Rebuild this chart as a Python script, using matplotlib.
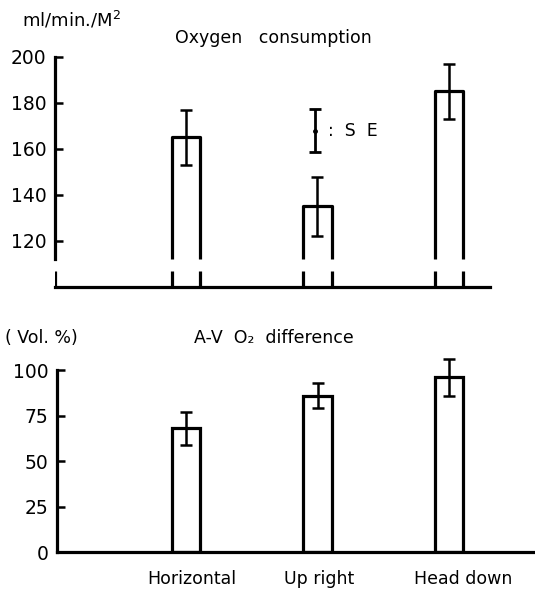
import matplotlib.pyplot as plt
import matplotlib.transforms as mtransforms
import numpy as np

plt.rcParams['font.family'] = ['DejaVu Sans']

positions = ['Horizontal', 'Up right', 'Head down']
o2_cons = [165, 135, 185]
o2_cons_se = [12, 13, 12]
avo2 = [68, 86, 96]
avo2_se = [9, 7, 10]
se_ref = 168
se_ref_half = 9.5

x = np.arange(len(positions))
w = 0.22
lw = 2.3

fig = plt.figure(figsize=(5.35, 5.90), dpi=100)

# ---- top panel: oxygen consumption (broken axis)
ax1 = fig.add_axes([55/535, (590-287)/590, 435/535, 230/590])
ax1.set_xlim(-0.996, 2.312)
ax1.set_ylim(100, 200)
for s in ['top', 'right']:
    ax1.spines[s].set_visible(False)
ax1.spines['left'].set_bounds(112, 200)
ax1.spines['left'].set_linewidth(lw)
ax1.spines['bottom'].set_linewidth(lw)
ax1.set_yticks([120, 140, 160, 180, 200])
ax1.tick_params(axis='y', direction='in', length=6, width=1.8, labelsize=13.5, pad=6)
ax1.set_xticks([])

for xi, v in zip(x, o2_cons):
    ax1.plot([xi - w/2, xi - w/2, xi + w/2, xi + w/2], [112, v, v, 112],
             color='black', lw=lw, solid_capstyle='butt')
    ax1.vlines([xi - w/2, xi + w/2], 100, 107, color='black', lw=lw)
ax1.vlines([-0.996], 100, 107, color='black', lw=lw)
ax1.errorbar(x, o2_cons, yerr=o2_cons_se, fmt='none', ecolor='black',
             elinewidth=1.8, capsize=4, capthick=1.8, clip_on=False)
ax1.errorbar([0.98], [se_ref], yerr=[se_ref_half], fmt='o', ms=2.5, color='black',
             elinewidth=2, capsize=4, capthick=2)
ax1.text(1.08, se_ref, ':  S  E', fontsize=12.5, va='center', ha='left')

fig.text(22/535, 1 - 20/590, 'ml/min./M$^2$', fontsize=13, va='center', ha='left')
fig.text(273/535, 1 - 38/590, 'Oxygen   consumption', fontsize=12.5, va='center', ha='center')

# ---- bottom panel: A-V O2 difference
ax2 = fig.add_axes([57/535, (590-552)/590, 478/535, 200/590])
ax2.set_xlim(-0.981, 2.654)
ax2.set_ylim(0, 110)
for s in ['top', 'right']:
    ax2.spines[s].set_visible(False)
ax2.spines['left'].set_bounds(0, 100)
ax2.spines['left'].set_linewidth(lw)
ax2.spines['bottom'].set_linewidth(lw)
ax2.set_yticks([0, 25, 50, 75, 100])
ax2.tick_params(axis='y', direction='in', length=6, width=1.8, labelsize=13.5, pad=6)
ax2.bar(x, avo2, width=w, fill=False, edgecolor='black', linewidth=lw)
ax2.errorbar(x, avo2, yerr=avo2_se, fmt='none', ecolor='black',
             elinewidth=1.8, capsize=4, capthick=1.8, clip_on=False)
ax2.set_xticks(x)
ax2.set_xticklabels(positions, fontsize=12.5)
ax2.tick_params(axis='x', length=0, pad=13)
# labels sit a little right of the bars in the original
shifts = [6, 2, 14]
for lab, dx in zip(ax2.get_xticklabels(), shifts):
    off = mtransforms.ScaledTranslation(dx/100, 0, fig.dpi_scale_trans)
    lab.set_transform(lab.get_transform() + off)

fig.text(5/535, 1 - 338/590, '( Vol. %)', fontsize=12.5, va='center', ha='left')
fig.text(274/535, 1 - 338/590, 'A-V  O₂  difference', fontsize=12.5, va='center', ha='center')

fig.savefig('out.png', dpi=100)
